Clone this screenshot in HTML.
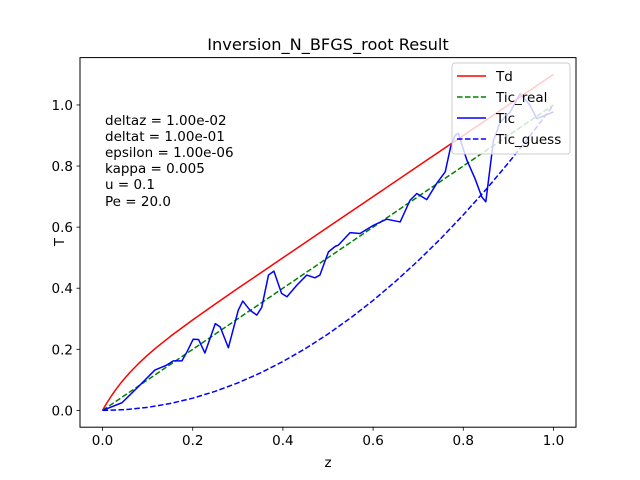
<!DOCTYPE html>
<html><head><meta charset="utf-8">
<style>
html,body{margin:0;padding:0;background:#fff;}
svg{display:block;font-family:"DejaVu Sans","Liberation Sans",sans-serif;}
</style></head>
<body>
<svg id="chart" width="640" height="480" viewBox="0 0 640 480">
<rect width="640" height="480" fill="#fff"/>
<text x="328" y="50" font-size="16.2" text-anchor="middle">Inversion_N_BFGS_root Result</text>
<g id="plot"></g>
<g id="ticks"></g>
<text x="328" y="467" font-size="13.5" text-anchor="middle">z</text>
<text transform="translate(64,242) rotate(-90)" font-size="13.5" text-anchor="middle">T</text>
<g font-size="13.5">
<text x="105" y="125">deltaz = 1.00e-02</text>
<text x="105" y="141">deltat = 1.00e-01</text>
<text x="105" y="157">epsilon = 1.00e-06</text>
<text x="105" y="173">kappa = 0.005</text>
<text x="105" y="189">u = 0.1</text>
<text x="105" y="206">Pe = 20.0</text>
</g>
<g id="legend"></g>
<rect x="80" y="57.6" width="496" height="369.6" fill="none" stroke="#000" stroke-width="1"/>
</svg>
<script>
const tdZ = [0,0.005,0.01,0.02,0.03,0.04,0.05,0.06,0.08,0.1,0.12,0.15,0.2,0.25,0.3,0.4,0.5,0.6,0.7,0.8,0.9,1.0];
const tdT = [0,0.013,0.0254,0.0483,0.0694,0.0887,0.1065,0.1232,0.1536,0.1811,0.2065,0.2418,0.2964,0.3485,0.3993,0.4996,0.5999,0.7,0.8,0.9,1.0,1.1];
const realZ = [0,1.0];
const realT = [0,1.0];
const guessZ = [0,0.05,0.1,0.15,0.2,0.25,0.3,0.35,0.4,0.45,0.5,0.55,0.6,0.65,0.7,0.75,0.8,0.85,0.9,0.95,1.0];
const guessT = [0,0.0025,0.01,0.0225,0.04,0.0625,0.09,0.1225,0.16,0.2025,0.25,0.3025,0.36,0.4225,0.49,0.5625,0.64,0.7225,0.81,0.9025,1.0];
const ticZ = [0,0.043,0.079,0.116,0.142,0.157,0.176,0.187,0.201,0.213,0.227,0.25,0.261,0.279,0.301,0.311,0.327,0.342,0.353,0.368,0.38,0.397,0.409,0.431,0.453,0.471,0.482,0.501,0.516,0.523,0.549,0.571,0.601,0.63,0.66,0.682,0.697,0.719,0.741,0.76,0.772,0.782,0.789,0.808,0.826,0.841,0.85,0.867,0.882,0.904,0.926,0.948,0.963,1.0];
const ticT = [0,0.025,0.077,0.132,0.148,0.162,0.162,0.191,0.233,0.232,0.188,0.284,0.273,0.205,0.328,0.358,0.328,0.312,0.337,0.443,0.456,0.383,0.372,0.41,0.443,0.434,0.443,0.519,0.537,0.541,0.582,0.579,0.606,0.626,0.617,0.688,0.71,0.69,0.743,0.781,0.863,0.901,0.907,0.819,0.759,0.699,0.683,0.884,0.944,0.977,1.037,0.999,0.955,0.977];
const xTicks = [0,0.2,0.4,0.6,0.8,1.0];
const xTickLabels = ["0.0","0.2","0.4","0.6","0.8","1.0"];
const yTicks = [0,0.2,0.4,0.6,0.8,1.0];
const yTickLabels = ["0.0","0.2","0.4","0.6","0.8","1.0"];

const NS = "http://www.w3.org/2000/svg";
const X0=80, X1=576, Y0=57.6, Y1=427.2;
const xmin=-0.05, xmax=1.05, ymin=-0.055, ymax=1.155;
function sx(v){return X0+(v-xmin)/(xmax-xmin)*(X1-X0);}
function sy(v){return Y1-(v-ymin)/(ymax-ymin)*(Y1-Y0);}
function mk(tag, attrs, parent){const e=document.createElementNS(NS,tag);for(const k in attrs)e.setAttribute(k,attrs[k]);parent.appendChild(e);return e;}

const plot=document.getElementById('plot');
function series(zs, ts, color, dash, name){
  const d=zs.map((z,i)=>(i?'L':'M')+sx(z).toFixed(2)+','+sy(ts[i]).toFixed(2)).join(' ');
  const p=mk('path',{d:d,fill:'none',stroke:color,'stroke-width':1.5,'stroke-linejoin':'round'},plot);
  if(dash)p.setAttribute('stroke-dasharray',dash);
  
  
}
series(tdZ, tdT, '#ff0000', null, 'td-line');
series(realZ, realT, '#008000', '5.55,2.4', 'tic-real-line');
series(ticZ, ticT, '#0000ff', null, 'tic-line');
series(guessZ, guessT, '#0000ff', '5.55,2.4', 'tic-guess-line');

const tg=document.getElementById('ticks');
xTicks.forEach((v,i)=>{
  const l=mk('line',{x1:sx(v),x2:sx(v),y1:Y1,y2:Y1+3.5,stroke:'#000','stroke-width':0.8},tg);
  
  
  const t=mk('text',{x:sx(v),y:Y1+18,'font-size':13.5,'text-anchor':'middle'},tg);
  t.textContent=xTickLabels[i];
  
  
});
yTicks.forEach((v,i)=>{
  const l=mk('line',{x1:X0-3.5,x2:X0,y1:sy(v),y2:sy(v),stroke:'#000','stroke-width':0.8},tg);
  
  
  const t=mk('text',{x:X0-7,y:sy(v)+5,'font-size':13.5,'text-anchor':'end'},tg);
  t.textContent=yTickLabels[i];
  
  
});

const lg=document.getElementById('legend');
const box=mk('rect',{x:452,y:63,width:118,height:91,rx:3,fill:'#fff','fill-opacity':0.8,stroke:'#cccccc','stroke-width':1},lg);


const legNames=['Td','Tic_real','Tic','Tic_guess'];
const legColors=['#ff0000','#008000','#0000ff','#0000ff'];
const legDash=[null,'5.55,2.4',null,'5.55,2.4'];
legNames.forEach((n,i)=>{
  const y=76+i*21;
  const g=mk('g',{},lg);
  
  
  const l=mk('line',{x1:457,x2:486,y1:y,y2:y,stroke:legColors[i],'stroke-width':1.5},g);
  if(legDash[i])l.setAttribute('stroke-dasharray',legDash[i]);
  const t=mk('text',{x:496,y:y+5,'font-size':13.5},g);
  t.textContent=n;
});
</script>
</body></html>
